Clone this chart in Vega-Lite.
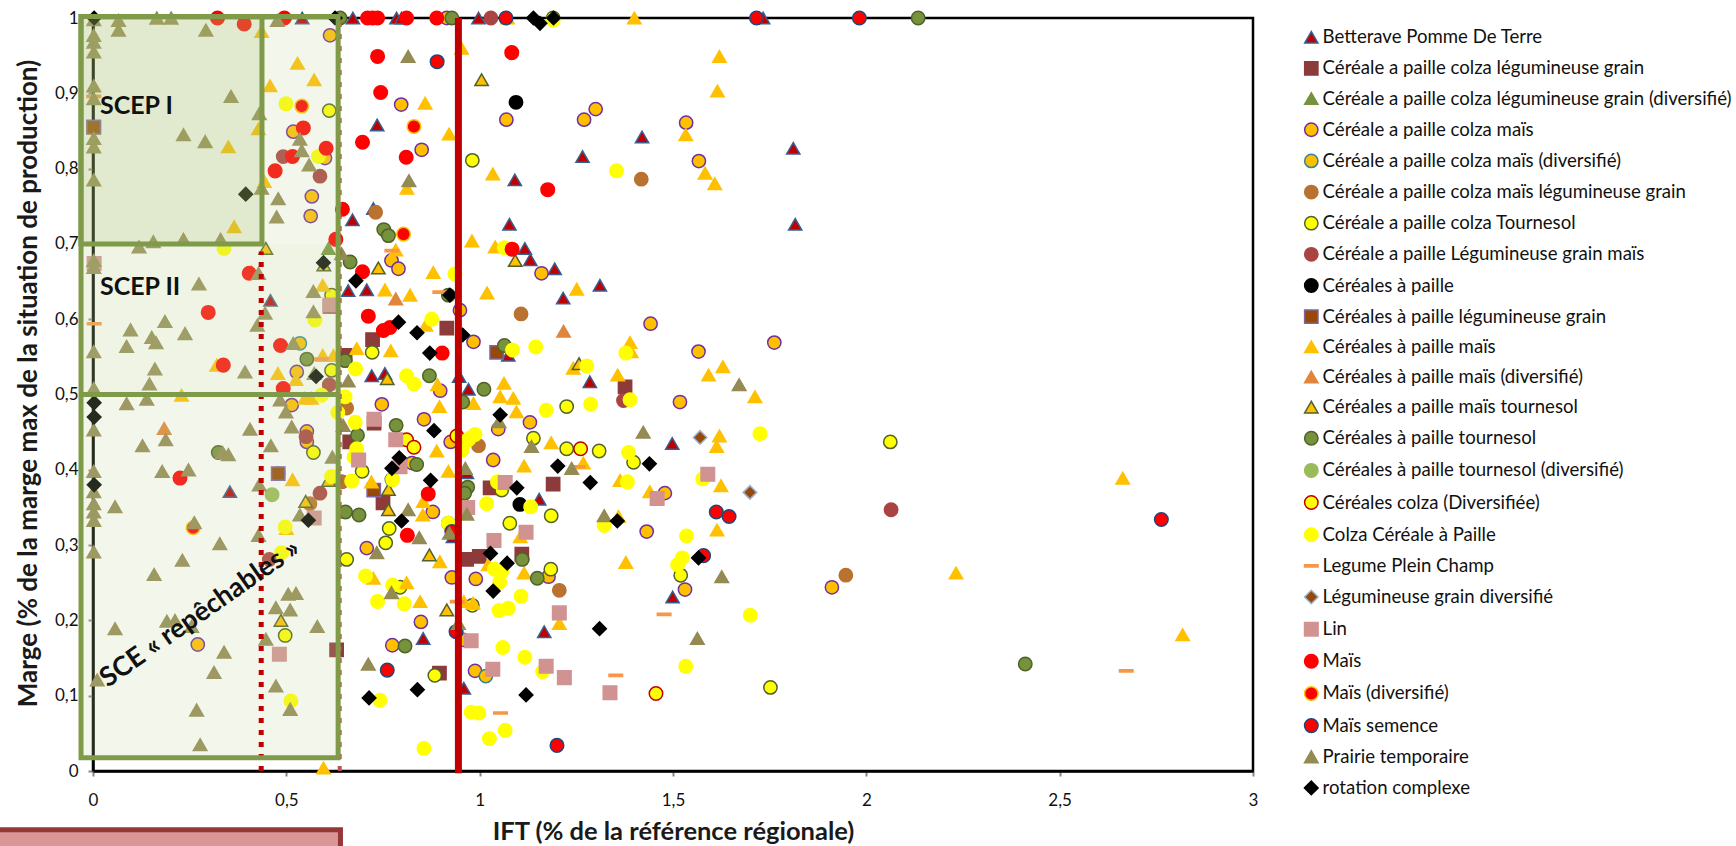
{"$schema":"https://vega.github.io/schema/vega-lite/v6.json","width":1160,"height":753,"autosize":{"type":"none"},"padding":{"left":93,"top":18,"right":483,"bottom":75},"background":"white","config":{"view":{"stroke":"#000000","strokeWidth":2.5},"font":"Lato"},
"datasets":{"pts":[
{"s":"Betterave Pomme De Terre","x":0.672,"y":1},{"s":"Betterave Pomme De Terre","x":0.785,"y":1},{"s":"Betterave Pomme De Terre","x":0.798,"y":1},{"s":"Betterave Pomme De Terre","x":0.997,"y":1},{"s":"Betterave Pomme De Terre","x":1.733,"y":1},{"s":"Betterave Pomme De Terre","x":0.735,"y":0.858},{"s":"Betterave Pomme De Terre","x":0.671,"y":0.732},{"s":"Betterave Pomme De Terre","x":0.725,"y":0.747},{"s":"Betterave Pomme De Terre","x":1.42,"y":0.842},{"s":"Betterave Pomme De Terre","x":1.266,"y":0.816},{"s":"Betterave Pomme De Terre","x":1.811,"y":0.827},{"s":"Betterave Pomme De Terre","x":1.091,"y":0.785},{"s":"Betterave Pomme De Terre","x":1.077,"y":0.726},{"s":"Betterave Pomme De Terre","x":1.816,"y":0.726},{"s":"Betterave Pomme De Terre","x":1.117,"y":0.694},{"s":"Betterave Pomme De Terre","x":1.131,"y":0.679},{"s":"Betterave Pomme De Terre","x":1.194,"y":0.667},{"s":"Betterave Pomme De Terre","x":1.311,"y":0.645},{"s":"Betterave Pomme De Terre","x":1.216,"y":0.628},{"s":"Betterave Pomme De Terre","x":0.66,"y":0.638},{"s":"Betterave Pomme De Terre","x":0.708,"y":0.639},{"s":"Betterave Pomme De Terre","x":1.074,"y":0.552},{"s":"Betterave Pomme De Terre","x":0.721,"y":0.525},{"s":"Betterave Pomme De Terre","x":0.755,"y":0.528},{"s":"Betterave Pomme De Terre","x":0.947,"y":0.524},{"s":"Betterave Pomme De Terre","x":0.971,"y":0.507},{"s":"Betterave Pomme De Terre","x":1.285,"y":0.517},{"s":"Betterave Pomme De Terre","x":0.541,"y":1},{"s":"Betterave Pomme De Terre","x":0.459,"y":0.625},{"s":"Betterave Pomme De Terre","x":0.354,"y":0.371},{"s":"Betterave Pomme De Terre","x":0.854,"y":0.176},{"s":"Betterave Pomme De Terre","x":0.959,"y":0.11},{"s":"Betterave Pomme De Terre","x":1.499,"y":0.231},{"s":"Betterave Pomme De Terre","x":1.167,"y":0.185},{"s":"Betterave Pomme De Terre","x":1.498,"y":0.435},{"s":"Betterave Pomme De Terre","x":1.154,"y":0.361},{"s":"Betterave Pomme De Terre","x":0.967,"y":0.396},{"s":"Betterave Pomme De Terre","x":0.931,"y":0.311},
{"s":"Céréale a paille colza légumineuse grain","x":0.915,"y":0.588},{"s":"Céréale a paille colza légumineuse grain","x":0.723,"y":0.573},{"s":"Céréale a paille colza légumineuse grain","x":0.652,"y":0.552},{"s":"Céréale a paille colza légumineuse grain","x":1.376,"y":0.51},{"s":"Céréale a paille colza légumineuse grain","x":0.613,"y":0.617},{"s":"Céréale a paille colza légumineuse grain","x":0.63,"y":0.161},{"s":"Céréale a paille colza légumineuse grain","x":0.727,"y":0.462},{"s":"Céréale a paille colza légumineuse grain","x":0.664,"y":0.437},{"s":"Céréale a paille colza légumineuse grain","x":0.75,"y":0.356},{"s":"Céréale a paille colza légumineuse grain","x":1.027,"y":0.376},{"s":"Céréale a paille colza légumineuse grain","x":1.19,"y":0.381},{"s":"Céréale a paille colza légumineuse grain","x":0.966,"y":0.281},{"s":"Céréale a paille colza légumineuse grain","x":0.999,"y":0.285},{"s":"Céréale a paille colza légumineuse grain","x":1.109,"y":0.288},{"s":"Céréale a paille colza légumineuse grain","x":0.896,"y":0.13},{"s":"Céréale a paille colza légumineuse grain","x":0.002,"y":0.855},
{"s":"Céréale a paille colza légumineuse grain (diversifié)","x":0.609,"y":0.694},
{"s":"Céréale a paille colza maïs","x":0.797,"y":0.885},{"s":"Céréale a paille colza maïs","x":0.85,"y":0.825},{"s":"Céréale a paille colza maïs","x":1.069,"y":0.865},{"s":"Céréale a paille colza maïs","x":1.27,"y":0.865},{"s":"Céréale a paille colza maïs","x":1.3,"y":0.879},{"s":"Céréale a paille colza maïs","x":1.534,"y":0.861},{"s":"Céréale a paille colza maïs","x":1.567,"y":0.81},{"s":"Céréale a paille colza maïs","x":0.772,"y":0.678},{"s":"Céréale a paille colza maïs","x":0.79,"y":0.667},{"s":"Céréale a paille colza maïs","x":0.949,"y":0.612},{"s":"Céréale a paille colza maïs","x":1.16,"y":0.661},{"s":"Céréale a paille colza maïs","x":1.442,"y":0.594},{"s":"Céréale a paille colza maïs","x":0.984,"y":0.57},{"s":"Céréale a paille colza maïs","x":1.566,"y":0.557},{"s":"Céréale a paille colza maïs","x":1.762,"y":0.569},{"s":"Céréale a paille colza maïs","x":0.898,"y":0.505},{"s":"Céréale a paille colza maïs","x":1.518,"y":0.49},{"s":"Céréale a paille colza maïs","x":0.915,"y":1},{"s":"Céréale a paille colza maïs","x":0.613,"y":0.977},{"s":"Céréale a paille colza maïs","x":0.518,"y":0.849},{"s":"Céréale a paille colza maïs","x":0.6,"y":0.814},{"s":"Céréale a paille colza maïs","x":0.566,"y":0.763},{"s":"Céréale a paille colza maïs","x":0.563,"y":0.737},{"s":"Céréale a paille colza maïs","x":0.527,"y":0.53},{"s":"Céréale a paille colza maïs","x":0.514,"y":0.486},{"s":"Céréale a paille colza maïs","x":0.553,"y":0.451},{"s":"Céréale a paille colza maïs","x":0.553,"y":0.437},{"s":"Céréale a paille colza maïs","x":0.271,"y":0.168},{"s":"Céréale a paille colza maïs","x":0.747,"y":0.487},{"s":"Céréale a paille colza maïs","x":0.856,"y":0.467},{"s":"Céréale a paille colza maïs","x":0.925,"y":0.437},{"s":"Céréale a paille colza maïs","x":1.035,"y":0.413},{"s":"Céréale a paille colza maïs","x":1.048,"y":0.454},{"s":"Céréale a paille colza maïs","x":1.13,"y":0.463},{"s":"Céréale a paille colza maïs","x":0.879,"y":0.344},{"s":"Céréale a paille colza maïs","x":0.825,"y":0.409},{"s":"Céréale a paille colza maïs","x":0.644,"y":0.384},{"s":"Céréale a paille colza maïs","x":1.479,"y":0.369},{"s":"Céréale a paille colza maïs","x":1.432,"y":0.318},{"s":"Céréale a paille colza maïs","x":1.531,"y":0.241},{"s":"Céréale a paille colza maïs","x":1.178,"y":0.258},{"s":"Céréale a paille colza maïs","x":0.708,"y":0.296},{"s":"Céréale a paille colza maïs","x":0.928,"y":0.257},{"s":"Céréale a paille colza maïs","x":0.99,"y":0.255},{"s":"Céréale a paille colza maïs","x":0.848,"y":0.198},{"s":"Céréale a paille colza maïs","x":0.774,"y":0.167},{"s":"Céréale a paille colza maïs","x":0.988,"y":0.133},{"s":"Céréale a paille colza maïs","x":0.958,"y":0.174},{"s":"Céréale a paille colza maïs","x":1.911,"y":0.244},
{"s":"Céréale a paille colza maïs (diversifié)","x":1.016,"y":0.126},{"s":"Céréale a paille colza maïs (diversifié)","x":0.535,"y":0.568},{"s":"Céréale a paille colza maïs (diversifié)","x":0.479,"y":0.395},
{"s":"Céréale a paille colza maïs légumineuse grain","x":1.418,"y":0.786},{"s":"Céréale a paille colza maïs légumineuse grain","x":0.731,"y":0.742},{"s":"Céréale a paille colza maïs légumineuse grain","x":1.107,"y":0.607},{"s":"Céréale a paille colza maïs légumineuse grain","x":0.656,"y":0.482},{"s":"Céréale a paille colza maïs légumineuse grain","x":0.643,"y":0.384},{"s":"Céréale a paille colza maïs légumineuse grain","x":0.561,"y":0.355},{"s":"Céréale a paille colza maïs légumineuse grain","x":1.206,"y":0.24},{"s":"Céréale a paille colza maïs légumineuse grain","x":0.997,"y":0.432},{"s":"Céréale a paille colza maïs légumineuse grain","x":1.947,"y":0.26},
{"s":"Céréale a paille colza Tournesol","x":0.981,"y":0.811},{"s":"Céréale a paille colza Tournesol","x":1.19,"y":1},{"s":"Céréale a paille colza Tournesol","x":0.722,"y":0.556},{"s":"Céréale a paille colza Tournesol","x":0.611,"y":0.877},{"s":"Céréale a paille colza Tournesol","x":0.617,"y":0.632},{"s":"Céréale a paille colza Tournesol","x":0.617,"y":0.532},{"s":"Céréale a paille colza Tournesol","x":0.57,"y":0.423},{"s":"Céréale a paille colza Tournesol","x":0.497,"y":0.18},{"s":"Céréale a paille colza Tournesol","x":0.696,"y":0.398},{"s":"Céréale a paille colza Tournesol","x":0.773,"y":0.387},{"s":"Céréale a paille colza Tournesol","x":0.766,"y":0.322},{"s":"Céréale a paille colza Tournesol","x":0.757,"y":0.303},{"s":"Céréale a paille colza Tournesol","x":0.919,"y":0.329},{"s":"Céréale a paille colza Tournesol","x":0.656,"y":0.281},{"s":"Céréale a paille colza Tournesol","x":0.794,"y":0.244},{"s":"Céréale a paille colza Tournesol","x":0.981,"y":0.22},{"s":"Céréale a paille colza Tournesol","x":0.884,"y":0.127},{"s":"Céréale a paille colza Tournesol","x":1.225,"y":0.484},{"s":"Céréale a paille colza Tournesol","x":1.139,"y":0.442},{"s":"Céréale a paille colza Tournesol","x":1.225,"y":0.428},{"s":"Céréale a paille colza Tournesol","x":1.309,"y":0.425},{"s":"Céréale a paille colza Tournesol","x":1.398,"y":0.41},{"s":"Céréale a paille colza Tournesol","x":1.185,"y":0.339},{"s":"Céréale a paille colza Tournesol","x":1.078,"y":0.329},{"s":"Céréale a paille colza Tournesol","x":1.057,"y":0.373},{"s":"Céréale a paille colza Tournesol","x":1.184,"y":0.268},{"s":"Céréale a paille colza Tournesol","x":1.52,"y":0.26},{"s":"Céréale a paille colza Tournesol","x":1.752,"y":0.111},{"s":"Céréale a paille colza Tournesol","x":2.062,"y":0.437},
{"s":"Céréale a paille Légumineuse grain maïs","x":1.029,"y":1},{"s":"Céréale a paille Légumineuse grain maïs","x":0.492,"y":0.816},{"s":"Céréale a paille Légumineuse grain maïs","x":0.587,"y":0.79},{"s":"Céréale a paille Légumineuse grain maïs","x":0.611,"y":0.513},{"s":"Céréale a paille Légumineuse grain maïs","x":0.587,"y":0.369},{"s":"Céréale a paille Légumineuse grain maïs","x":0.551,"y":0.444},{"s":"Céréale a paille Légumineuse grain maïs","x":0.456,"y":0.281},{"s":"Céréale a paille Légumineuse grain maïs","x":2.064,"y":0.347},{"s":"Céréale a paille Légumineuse grain maïs","x":1.372,"y":0.492},
{"s":"Céréales à paille","x":1.094,"y":0.888},{"s":"Céréales à paille","x":1.104,"y":0.354},
{"s":"Céréales à paille légumineuse grain","x":1.044,"y":0.556},{"s":"Céréales à paille légumineuse grain","x":0.479,"y":0.395},{"s":"Céréales à paille légumineuse grain","x":0.726,"y":0.373},{"s":"Céréales à paille légumineuse grain","x":0.002,"y":0.855},
{"s":"Céréales à paille maïs","x":1.4,"y":1},{"s":"Céréales à paille maïs","x":1.62,"y":0.949},{"s":"Céréales à paille maïs","x":1.615,"y":0.903},{"s":"Céréales à paille maïs","x":1.533,"y":0.845},{"s":"Céréales à paille maïs","x":1.583,"y":0.794},{"s":"Céréales à paille maïs","x":1.608,"y":0.78},{"s":"Céréales à paille maïs","x":0.953,"y":0.96},{"s":"Céréales à paille maïs","x":0.859,"y":0.887},{"s":"Céréales à paille maïs","x":0.921,"y":0.846},{"s":"Céréales à paille maïs","x":0.812,"y":0.774},{"s":"Céréales à paille maïs","x":1.034,"y":0.793},{"s":"Céréales à paille maïs","x":0.98,"y":0.704},{"s":"Céréales à paille maïs","x":1.04,"y":0.696},{"s":"Céréales à paille maïs","x":0.783,"y":0.692},{"s":"Céréales à paille maïs","x":0.88,"y":0.662},{"s":"Céréales à paille maïs","x":1.019,"y":0.635},{"s":"Céréales à paille maïs","x":1.251,"y":0.64},{"s":"Céréales à paille maïs","x":0.755,"y":0.639},{"s":"Céréales à paille maïs","x":0.82,"y":0.632},{"s":"Céréales à paille maïs","x":0.861,"y":0.592},{"s":"Céréales à paille maïs","x":0.682,"y":0.561},{"s":"Céréales à paille maïs","x":0.77,"y":0.558},{"s":"Céréales à paille maïs","x":1.389,"y":0.569},{"s":"Céréales à paille maïs","x":1.392,"y":0.557},{"s":"Céréales à paille maïs","x":1.242,"y":0.535},{"s":"Céréales à paille maïs","x":1.357,"y":0.526},{"s":"Céréales à paille maïs","x":1.592,"y":0.526},{"s":"Céréales à paille maïs","x":1.629,"y":0.537},{"s":"Céréales à paille maïs","x":1.712,"y":0.497},{"s":"Céréales à paille maïs","x":1.063,"y":0.515},{"s":"Céréales à paille maïs","x":0.891,"y":0.513},{"s":"Céréales à paille maïs","x":1.072,"y":1},{"s":"Céréales à paille maïs","x":0.436,"y":0.982},{"s":"Céréales à paille maïs","x":0.529,"y":0.94},{"s":"Céréales à paille maïs","x":0.458,"y":0.91},{"s":"Céréales à paille maïs","x":0.572,"y":0.918},{"s":"Céréales à paille maïs","x":0.428,"y":0.853},{"s":"Céréales à paille maïs","x":0.35,"y":0.829},{"s":"Céréales à paille maïs","x":0.443,"y":0.783},{"s":"Céréales à paille maïs","x":0.365,"y":0.723},{"s":"Céréales à paille maïs","x":0.41,"y":0.663},{"s":"Céréales à paille maïs","x":0.594,"y":0.645},{"s":"Céréales à paille maïs","x":0.478,"y":0.528},{"s":"Céréales à paille maïs","x":0.525,"y":0.52},{"s":"Céréales à paille maïs","x":0.32,"y":0.539},{"s":"Céréales à paille maïs","x":0.594,"y":0.552},{"s":"Céréales à paille maïs","x":0.622,"y":0.552},{"s":"Céréales à paille maïs","x":0.229,"y":0.499},{"s":"Céréales à paille maïs","x":0.548,"y":0.495},{"s":"Céréales à paille maïs","x":0.565,"y":0.495},{"s":"Céréales à paille maïs","x":0.896,"y":0.484},{"s":"Céréales à paille maïs","x":0.984,"y":0.488},{"s":"Céréales à paille maïs","x":0.516,"y":0.387},{"s":"Céréales à paille maïs","x":0.5,"y":0.322},{"s":"Céréales à paille maïs","x":0.72,"y":0.384},{"s":"Céréales à paille maïs","x":0.853,"y":0.34},{"s":"Céréales à paille maïs","x":0.854,"y":0.358},{"s":"Céréales à paille maïs","x":0.889,"y":0.425},{"s":"Céréales à paille maïs","x":0.919,"y":0.398},{"s":"Céréales à paille maïs","x":0.897,"y":0.278},{"s":"Céréales à paille maïs","x":0.725,"y":0.256},{"s":"Céréales à paille maïs","x":0.811,"y":0.25},{"s":"Céréales à paille maïs","x":0.846,"y":0.225},{"s":"Céréales à paille maïs","x":0.959,"y":0.225},{"s":"Céréales à paille maïs","x":0.596,"y":0.004},{"s":"Céréales à paille maïs","x":1.053,"y":0.497},{"s":"Céréales à paille maïs","x":1.087,"y":0.495},{"s":"Céréales à paille maïs","x":1.095,"y":0.477},{"s":"Céréales à paille maïs","x":1.185,"y":0.436},{"s":"Céréales à paille maïs","x":1.268,"y":0.409},{"s":"Céréales à paille maïs","x":1.115,"y":0.405},{"s":"Céréales à paille maïs","x":1.363,"y":0.386},{"s":"Céréales à paille maïs","x":1.44,"y":0.371},{"s":"Céréales à paille maïs","x":1.62,"y":0.445},{"s":"Céréales à paille maïs","x":1.613,"y":0.431},{"s":"Céréales à paille maïs","x":1.624,"y":0.379},{"s":"Céréales à paille maïs","x":1.614,"y":0.32},{"s":"Céréales à paille maïs","x":1.378,"y":0.277},{"s":"Céréales à paille maïs","x":1.105,"y":0.311},{"s":"Céréales à paille maïs","x":1.359,"y":0.338},{"s":"Céréales à paille maïs","x":1.115,"y":0.263},{"s":"Céréales à paille maïs","x":1.022,"y":0.274},{"s":"Céréales à paille maïs","x":1.206,"y":0.196},{"s":"Céréales à paille maïs","x":0.983,"y":0.223},{"s":"Céréales à paille maïs","x":2.663,"y":0.389},{"s":"Céréales à paille maïs","x":2.232,"y":0.263},{"s":"Céréales à paille maïs","x":2.818,"y":0.181},
{"s":"Céréales à paille maïs (diversifié)","x":0.783,"y":0.627},{"s":"Céréales à paille maïs (diversifié)","x":1.217,"y":0.584},{"s":"Céréales à paille maïs (diversifié)","x":0.184,"y":0.455},
{"s":"Céréales a paille maïs tournesol","x":1.005,"y":0.918},{"s":"Céréales a paille maïs tournesol","x":0.738,"y":0.668},{"s":"Céréales a paille maïs tournesol","x":1.092,"y":0.678},{"s":"Céréales a paille maïs tournesol","x":1.257,"y":0.541},{"s":"Céréales a paille maïs tournesol","x":0.761,"y":0.521},{"s":"Céréales a paille maïs tournesol","x":0.447,"y":0.694},{"s":"Céréales a paille maïs tournesol","x":0.597,"y":0.672},{"s":"Céréales a paille maïs tournesol","x":0.764,"y":0.374},{"s":"Céréales a paille maïs tournesol","x":0.764,"y":0.347},{"s":"Céréales a paille maïs tournesol","x":0.87,"y":0.287},{"s":"Céréales a paille maïs tournesol","x":0.915,"y":0.214},{"s":"Céréales a paille maïs tournesol","x":0.486,"y":0.2},{"s":"Céréales a paille maïs tournesol","x":0.55,"y":0.358},{"s":"Céréales a paille maïs tournesol","x":0.609,"y":0.386},
{"s":"Céréales à paille tournesol","x":2.134,"y":1},{"s":"Céréales à paille tournesol","x":0.928,"y":1},{"s":"Céréales à paille tournesol","x":0.639,"y":1},{"s":"Céréales à paille tournesol","x":0.752,"y":0.719},{"s":"Céréales à paille tournesol","x":0.764,"y":0.711},{"s":"Céréales à paille tournesol","x":0.665,"y":0.676},{"s":"Céréales à paille tournesol","x":0.919,"y":0.632},{"s":"Céréales à paille tournesol","x":1.064,"y":0.565},{"s":"Céréales à paille tournesol","x":0.652,"y":0.545},{"s":"Céréales à paille tournesol","x":0.87,"y":0.525},{"s":"Céréales à paille tournesol","x":1.011,"y":0.507},{"s":"Céréales à paille tournesol","x":0.956,"y":0.49},{"s":"Céréales à paille tournesol","x":0.553,"y":0.547},{"s":"Céréales à paille tournesol","x":0.324,"y":0.423},{"s":"Céréales à paille tournesol","x":0.684,"y":0.446},{"s":"Céréales à paille tournesol","x":0.784,"y":0.459},{"s":"Céréales à paille tournesol","x":0.653,"y":0.344},{"s":"Céréales à paille tournesol","x":0.688,"y":0.34},{"s":"Céréales à paille tournesol","x":0.837,"y":0.407},{"s":"Céréales à paille tournesol","x":0.969,"y":0.377},{"s":"Céréales à paille tournesol","x":0.961,"y":0.369},{"s":"Céréales à paille tournesol","x":0.807,"y":0.166},{"s":"Céréales à paille tournesol","x":1.11,"y":0.281},{"s":"Céréales à paille tournesol","x":1.149,"y":0.256},{"s":"Céréales à paille tournesol","x":2.411,"y":0.142},
{"s":"Céréales à paille tournesol (diversifié)","x":0.463,"y":0.367},
{"s":"Céréales colza (Diversifiée)","x":0.811,"y":0.44},{"s":"Céréales colza (Diversifiée)","x":0.83,"y":0.43},{"s":"Céréales colza (Diversifiée)","x":0.941,"y":0.445},{"s":"Céréales colza (Diversifiée)","x":1.261,"y":0.428},{"s":"Céréales colza (Diversifiée)","x":1.456,"y":0.103},
{"s":"Colza Céréale à Paille","x":1.19,"y":0.997},{"s":"Colza Céréale à Paille","x":1.354,"y":0.797},{"s":"Colza Céréale à Paille","x":0.936,"y":0.66},{"s":"Colza Céréale à Paille","x":1.064,"y":0.695},{"s":"Colza Céréale à Paille","x":0.876,"y":0.6},{"s":"Colza Céréale à Paille","x":1.085,"y":0.559},{"s":"Colza Céréale à Paille","x":1.145,"y":0.563},{"s":"Colza Céréale à Paille","x":1.378,"y":0.555},{"s":"Colza Céréale à Paille","x":1.277,"y":0.538},{"s":"Colza Céréale à Paille","x":0.679,"y":0.534},{"s":"Colza Céréale à Paille","x":0.811,"y":0.525},{"s":"Colza Céréale à Paille","x":0.83,"y":0.514},{"s":"Colza Céréale à Paille","x":0.499,"y":0.886},{"s":"Colza Céréale à Paille","x":0.583,"y":0.816},{"s":"Colza Céréale à Paille","x":0.574,"y":0.599},{"s":"Colza Céréale à Paille","x":0.339,"y":0.694},{"s":"Colza Céréale à Paille","x":0.652,"y":0.497},{"s":"Colza Céréale à Paille","x":0.591,"y":0.499},{"s":"Colza Céréale à Paille","x":0.633,"y":0.476},{"s":"Colza Céréale à Paille","x":0.678,"y":0.463},{"s":"Colza Céréale à Paille","x":0.497,"y":0.324},{"s":"Colza Céréale à Paille","x":0.488,"y":0.29},{"s":"Colza Céréale à Paille","x":0.512,"y":0.093},{"s":"Colza Céréale à Paille","x":0.617,"y":0.391},{"s":"Colza Céréale à Paille","x":0.669,"y":0.385},{"s":"Colza Céréale à Paille","x":0.682,"y":0.428},{"s":"Colza Céréale à Paille","x":0.675,"y":0.417},{"s":"Colza Céréale à Paille","x":0.775,"y":0.387},{"s":"Colza Céréale à Paille","x":0.856,"y":0.03},{"s":"Colza Céréale à Paille","x":0.742,"y":0.094},{"s":"Colza Céréale à Paille","x":0.998,"y":0.077},{"s":"Colza Céréale à Paille","x":0.705,"y":0.259},{"s":"Colza Céréale à Paille","x":0.736,"y":0.225},{"s":"Colza Céréale à Paille","x":0.805,"y":0.222},{"s":"Colza Céréale à Paille","x":0.775,"y":0.247},{"s":"Colza Céréale à Paille","x":0.919,"y":0.329},{"s":"Colza Céréale à Paille","x":0.974,"y":0.442},{"s":"Colza Céréale à Paille","x":0.954,"y":0.426},{"s":"Colza Céréale à Paille","x":1.172,"y":0.479},{"s":"Colza Céréale à Paille","x":1.287,"y":0.487},{"s":"Colza Céréale à Paille","x":1.389,"y":0.493},{"s":"Colza Céréale à Paille","x":1.725,"y":0.448},{"s":"Colza Céréale à Paille","x":1.385,"y":0.423},{"s":"Colza Céréale à Paille","x":1.382,"y":0.384},{"s":"Colza Céréale à Paille","x":1.577,"y":0.388},{"s":"Colza Céréale à Paille","x":1.018,"y":0.355},{"s":"Colza Céréale à Paille","x":1.132,"y":0.351},{"s":"Colza Céréale à Paille","x":1.046,"y":0.384},{"s":"Colza Céréale à Paille","x":1.322,"y":0.326},{"s":"Colza Céréale à Paille","x":1.535,"y":0.312},{"s":"Colza Céréale à Paille","x":1.524,"y":0.283},{"s":"Colza Céréale à Paille","x":1.512,"y":0.274},{"s":"Colza Céréale à Paille","x":1.7,"y":0.207},{"s":"Colza Céréale à Paille","x":1.038,"y":0.268},{"s":"Colza Céréale à Paille","x":1.057,"y":0.265},{"s":"Colza Céréale à Paille","x":1.052,"y":0.251},{"s":"Colza Céréale à Paille","x":1.107,"y":0.232},{"s":"Colza Céréale à Paille","x":1.05,"y":0.213},{"s":"Colza Céréale à Paille","x":1.074,"y":0.216},{"s":"Colza Céréale à Paille","x":1.06,"y":0.164},{"s":"Colza Céréale à Paille","x":1.117,"y":0.151},{"s":"Colza Céréale à Paille","x":1.163,"y":0.132},{"s":"Colza Céréale à Paille","x":1.533,"y":0.139},{"s":"Colza Céréale à Paille","x":0.978,"y":0.078},{"s":"Colza Céréale à Paille","x":1.066,"y":0.054},{"s":"Colza Céréale à Paille","x":1.025,"y":0.043},{"s":"Colza Céréale à Paille","x":0.988,"y":0.447},{"s":"Colza Céréale à Paille","x":0.971,"y":0.44},
{"s":"Legume Plein Champ","x":0.003,"y":0.594},{"s":"Legume Plein Champ","x":0.002,"y":0.896},{"s":"Legume Plein Champ","x":0.773,"y":0.691},{"s":"Legume Plein Champ","x":0.897,"y":0.636},{"s":"Legume Plein Champ","x":0.591,"y":0.547},{"s":"Legume Plein Champ","x":0.942,"y":0.225},{"s":"Legume Plein Champ","x":1.255,"y":0.404},{"s":"Legume Plein Champ","x":1.477,"y":0.208},{"s":"Legume Plein Champ","x":1.352,"y":0.127},{"s":"Legume Plein Champ","x":1.054,"y":0.077},{"s":"Legume Plein Champ","x":2.672,"y":0.133},
{"s":"Légumineuse grain diversifié","x":1.57,"y":0.443},{"s":"Légumineuse grain diversifié","x":1.699,"y":0.37},
{"s":"Lin","x":0.727,"y":0.467},{"s":"Lin","x":0.783,"y":0.44},{"s":"Lin","x":0.687,"y":0.413},{"s":"Lin","x":0.794,"y":0.404},{"s":"Lin","x":0.969,"y":0.35},{"s":"Lin","x":1.066,"y":0.383},{"s":"Lin","x":1.12,"y":0.317},{"s":"Lin","x":1.037,"y":0.306},{"s":"Lin","x":1.59,"y":0.394},{"s":"Lin","x":1.459,"y":0.362},{"s":"Lin","x":1.206,"y":0.21},{"s":"Lin","x":0.978,"y":0.173},{"s":"Lin","x":1.034,"y":0.135},{"s":"Lin","x":1.172,"y":0.139},{"s":"Lin","x":1.219,"y":0.124},{"s":"Lin","x":1.337,"y":0.104},{"s":"Lin","x":0.482,"y":0.155},{"s":"Lin","x":0.572,"y":0.336},{"s":"Lin","x":0.003,"y":0.674},{"s":"Lin","x":0.613,"y":0.619},
{"s":"Maïs","x":0.736,"y":0.949},{"s":"Maïs","x":0.744,"y":0.901},{"s":"Maïs","x":0.697,"y":0.835},{"s":"Maïs","x":0.81,"y":0.815},{"s":"Maïs","x":1.083,"y":0.954},{"s":"Maïs","x":1.176,"y":0.772},{"s":"Maïs","x":1.084,"y":0.693},{"s":"Maïs","x":0.645,"y":0.746},{"s":"Maïs","x":0.697,"y":0.663},{"s":"Maïs","x":0.712,"y":0.604},{"s":"Maïs","x":0.768,"y":0.589},{"s":"Maïs","x":0.751,"y":0.585},{"s":"Maïs","x":0.903,"y":0.555},{"s":"Maïs","x":0.71,"y":1},{"s":"Maïs","x":0.736,"y":1},{"s":"Maïs","x":0.723,"y":1},{"s":"Maïs","x":0.811,"y":1},{"s":"Maïs","x":0.889,"y":1},{"s":"Maïs","x":0.322,"y":1},{"s":"Maïs","x":0.391,"y":0.992},{"s":"Maïs","x":0.495,"y":1},{"s":"Maïs","x":0.544,"y":0.854},{"s":"Maïs","x":0.516,"y":0.816},{"s":"Maïs","x":0.471,"y":0.797},{"s":"Maïs","x":0.603,"y":0.827},{"s":"Maïs","x":0.298,"y":0.609},{"s":"Maïs","x":0.404,"y":0.661},{"s":"Maïs","x":0.337,"y":0.539},{"s":"Maïs","x":0.485,"y":0.565},{"s":"Maïs","x":0.628,"y":0.706},{"s":"Maïs","x":0.492,"y":0.508},{"s":"Maïs","x":0.225,"y":0.389},{"s":"Maïs","x":0.867,"y":0.368},{"s":"Maïs","x":0.813,"y":0.313},
{"s":"Maïs (diversifié)","x":0.83,"y":0.856},{"s":"Maïs (diversifié)","x":0.803,"y":0.713},{"s":"Maïs (diversifié)","x":0.54,"y":0.883},{"s":"Maïs (diversifié)","x":0.259,"y":0.323},
{"s":"Maïs semence","x":1.982,"y":1},{"s":"Maïs semence","x":0.89,"y":0.942},{"s":"Maïs semence","x":1.068,"y":1},{"s":"Maïs semence","x":1.716,"y":1},{"s":"Maïs semence","x":0.761,"y":0.134},{"s":"Maïs semence","x":1.2,"y":0.034},{"s":"Maïs semence","x":1.612,"y":0.344},{"s":"Maïs semence","x":1.645,"y":0.338},{"s":"Maïs semence","x":1.579,"y":0.286},{"s":"Maïs semence","x":0.928,"y":0.318},{"s":"Maïs semence","x":0.939,"y":0.185},{"s":"Maïs semence","x":2.763,"y":0.334},
{"s":"Prairie temporaire","x":0.002,"y":0.998},{"s":"Prairie temporaire","x":0.002,"y":0.977},{"s":"Prairie temporaire","x":0.002,"y":0.968},{"s":"Prairie temporaire","x":0.002,"y":0.955},{"s":"Prairie temporaire","x":0.002,"y":0.91},{"s":"Prairie temporaire","x":0.002,"y":0.893},{"s":"Prairie temporaire","x":0.002,"y":0.84},{"s":"Prairie temporaire","x":0.002,"y":0.829},{"s":"Prairie temporaire","x":0.002,"y":0.785},{"s":"Prairie temporaire","x":0.002,"y":0.678},{"s":"Prairie temporaire","x":0.002,"y":0.669},{"s":"Prairie temporaire","x":0.002,"y":0.557},{"s":"Prairie temporaire","x":0.002,"y":0.508},{"s":"Prairie temporaire","x":0.002,"y":0.453},{"s":"Prairie temporaire","x":0.002,"y":0.398},{"s":"Prairie temporaire","x":0.002,"y":0.371},{"s":"Prairie temporaire","x":0.002,"y":0.355},{"s":"Prairie temporaire","x":0.002,"y":0.344},{"s":"Prairie temporaire","x":0.002,"y":0.333},{"s":"Prairie temporaire","x":0.002,"y":0.291},{"s":"Prairie temporaire","x":0.066,"y":0.997},{"s":"Prairie temporaire","x":0.066,"y":0.984},{"s":"Prairie temporaire","x":0.165,"y":1},{"s":"Prairie temporaire","x":0.202,"y":1},{"s":"Prairie temporaire","x":0.292,"y":0.984},{"s":"Prairie temporaire","x":0.477,"y":0.997},{"s":"Prairie temporaire","x":0.357,"y":0.896},{"s":"Prairie temporaire","x":0.43,"y":0.873},{"s":"Prairie temporaire","x":0.234,"y":0.845},{"s":"Prairie temporaire","x":0.29,"y":0.836},{"s":"Prairie temporaire","x":0.535,"y":0.839},{"s":"Prairie temporaire","x":0.54,"y":0.824},{"s":"Prairie temporaire","x":0.559,"y":0.805},{"s":"Prairie temporaire","x":0.436,"y":0.774},{"s":"Prairie temporaire","x":0.479,"y":0.76},{"s":"Prairie temporaire","x":0.475,"y":0.736},{"s":"Prairie temporaire","x":0.119,"y":0.696},{"s":"Prairie temporaire","x":0.156,"y":0.703},{"s":"Prairie temporaire","x":0.234,"y":0.706},{"s":"Prairie temporaire","x":0.33,"y":0.706},{"s":"Prairie temporaire","x":0.428,"y":0.661},{"s":"Prairie temporaire","x":0.274,"y":0.647},{"s":"Prairie temporaire","x":0.57,"y":0.637},{"s":"Prairie temporaire","x":0.57,"y":0.61},{"s":"Prairie temporaire","x":0.425,"y":0.592},{"s":"Prairie temporaire","x":0.445,"y":0.608},{"s":"Prairie temporaire","x":0.097,"y":0.586},{"s":"Prairie temporaire","x":0.186,"y":0.597},{"s":"Prairie temporaire","x":0.087,"y":0.564},{"s":"Prairie temporaire","x":0.238,"y":0.581},{"s":"Prairie temporaire","x":0.152,"y":0.576},{"s":"Prairie temporaire","x":0.163,"y":0.569},{"s":"Prairie temporaire","x":0.16,"y":0.534},{"s":"Prairie temporaire","x":0.393,"y":0.53},{"s":"Prairie temporaire","x":0.518,"y":0.568},{"s":"Prairie temporaire","x":0.146,"y":0.514},{"s":"Prairie temporaire","x":0.66,"y":0.518},{"s":"Prairie temporaire","x":0.643,"y":0.687},{"s":"Prairie temporaire","x":0.572,"y":0.528},{"s":"Prairie temporaire","x":0.087,"y":0.488},{"s":"Prairie temporaire","x":0.139,"y":0.494},{"s":"Prairie temporaire","x":0.484,"y":0.493},{"s":"Prairie temporaire","x":0.499,"y":0.477},{"s":"Prairie temporaire","x":0.406,"y":0.454},{"s":"Prairie temporaire","x":0.188,"y":0.44},{"s":"Prairie temporaire","x":0.128,"y":0.432},{"s":"Prairie temporaire","x":0.46,"y":0.432},{"s":"Prairie temporaire","x":0.335,"y":0.423},{"s":"Prairie temporaire","x":0.35,"y":0.42},{"s":"Prairie temporaire","x":0.514,"y":0.457},{"s":"Prairie temporaire","x":0.619,"y":0.417},{"s":"Prairie temporaire","x":0.247,"y":0.4},{"s":"Prairie temporaire","x":0.179,"y":0.398},{"s":"Prairie temporaire","x":0.43,"y":0.38},{"s":"Prairie temporaire","x":0.057,"y":0.351},{"s":"Prairie temporaire","x":0.535,"y":0.34},{"s":"Prairie temporaire","x":0.262,"y":0.33},{"s":"Prairie temporaire","x":0.428,"y":0.313},{"s":"Prairie temporaire","x":0.328,"y":0.302},{"s":"Prairie temporaire","x":0.231,"y":0.28},{"s":"Prairie temporaire","x":0.158,"y":0.261},{"s":"Prairie temporaire","x":0.505,"y":0.235},{"s":"Prairie temporaire","x":0.525,"y":0.236},{"s":"Prairie temporaire","x":0.473,"y":0.217},{"s":"Prairie temporaire","x":0.51,"y":0.214},{"s":"Prairie temporaire","x":0.191,"y":0.199},{"s":"Prairie temporaire","x":0.212,"y":0.2},{"s":"Prairie temporaire","x":0.255,"y":0.192},{"s":"Prairie temporaire","x":0.057,"y":0.189},{"s":"Prairie temporaire","x":0.58,"y":0.192},{"s":"Prairie temporaire","x":0.447,"y":0.175},{"s":"Prairie temporaire","x":0.339,"y":0.158},{"s":"Prairie temporaire","x":0.313,"y":0.131},{"s":"Prairie temporaire","x":0.011,"y":0.121},{"s":"Prairie temporaire","x":0.473,"y":0.113},{"s":"Prairie temporaire","x":0.268,"y":0.081},{"s":"Prairie temporaire","x":0.51,"y":0.082},{"s":"Prairie temporaire","x":0.277,"y":0.035},{"s":"Prairie temporaire","x":0.734,"y":0.29},{"s":"Prairie temporaire","x":0.815,"y":0.347},{"s":"Prairie temporaire","x":0.844,"y":0.31},{"s":"Prairie temporaire","x":0.772,"y":0.237},{"s":"Prairie temporaire","x":0.712,"y":0.142},{"s":"Prairie temporaire","x":0.922,"y":0.316},{"s":"Prairie temporaire","x":0.963,"y":0.402},{"s":"Prairie temporaire","x":0.967,"y":0.341},{"s":"Prairie temporaire","x":0.945,"y":0.196},{"s":"Prairie temporaire","x":0.647,"y":0.459},{"s":"Prairie temporaire","x":0.815,"y":0.949},{"s":"Prairie temporaire","x":0.817,"y":0.784},{"s":"Prairie temporaire","x":1.671,"y":0.513},{"s":"Prairie temporaire","x":1.423,"y":0.45},{"s":"Prairie temporaire","x":1.05,"y":0.464},{"s":"Prairie temporaire","x":1.134,"y":0.431},{"s":"Prairie temporaire","x":1.238,"y":0.402},{"s":"Prairie temporaire","x":1.322,"y":0.339},{"s":"Prairie temporaire","x":1.626,"y":0.258},{"s":"Prairie temporaire","x":1.563,"y":0.176},
{"s":"rotation complexe","x":0.003,"y":1},{"s":"rotation complexe","x":0.626,"y":1},{"s":"rotation complexe","x":0.395,"y":0.766},{"s":"rotation complexe","x":0.596,"y":0.675},{"s":"rotation complexe","x":0.577,"y":0.524},{"s":"rotation complexe","x":0.003,"y":0.489},{"s":"rotation complexe","x":0.003,"y":0.47},{"s":"rotation complexe","x":0.003,"y":0.38},{"s":"rotation complexe","x":0.557,"y":0.333},{"s":"rotation complexe","x":1.139,"y":1},{"s":"rotation complexe","x":1.156,"y":0.993},{"s":"rotation complexe","x":1.191,"y":1},{"s":"rotation complexe","x":0.68,"y":0.651},{"s":"rotation complexe","x":0.923,"y":0.632},{"s":"rotation complexe","x":0.79,"y":0.596},{"s":"rotation complexe","x":0.838,"y":0.582},{"s":"rotation complexe","x":0.871,"y":0.555},{"s":"rotation complexe","x":0.956,"y":0.579},{"s":"rotation complexe","x":1.053,"y":0.473},{"s":"rotation complexe","x":0.882,"y":0.452},{"s":"rotation complexe","x":0.792,"y":0.416},{"s":"rotation complexe","x":0.773,"y":0.402},{"s":"rotation complexe","x":0.873,"y":0.386},{"s":"rotation complexe","x":0.798,"y":0.332},{"s":"rotation complexe","x":1.202,"y":0.405},{"s":"rotation complexe","x":1.286,"y":0.383},{"s":"rotation complexe","x":1.439,"y":0.408},{"s":"rotation complexe","x":1.096,"y":0.376},{"s":"rotation complexe","x":1.356,"y":0.332},{"s":"rotation complexe","x":1.028,"y":0.289},{"s":"rotation complexe","x":1.071,"y":0.276},{"s":"rotation complexe","x":1.566,"y":0.283},{"s":"rotation complexe","x":1.035,"y":0.239},{"s":"rotation complexe","x":1.31,"y":0.189},{"s":"rotation complexe","x":0.714,"y":0.097},{"s":"rotation complexe","x":0.839,"y":0.108},{"s":"rotation complexe","x":1.12,"y":0.101}
]},
"layer":[
{"data":{"name":"pts"},"mark":{"type":"point","filled":true,"opacity":1,"strokeWidth":1.5},
"encoding":{
"x":{"field":"x","type":"quantitative","scale":{"domain":[0,3],"nice":false},"axis":{"title":"IFT (% de la référence régionale)","titleFont":"Lato","titleFontSize":25.5,"titleFontWeight":"bold","titleColor":"#1a1a1a","titlePadding":11,"values":[0,0.5,1,1.5,2,2.5,3],"labelExpr":"replace(toString(datum.value),'.',',')","labelFont":"Lato","labelFontSize":17,"labelColor":"#111111","labelPadding":16,"labelFlush":false,"tickColor":"#868686","tickWidth":2,"tickSize":5,"domainColor":"#000000","domainWidth":2.5,"grid":false}},
"y":{"field":"y","type":"quantitative","scale":{"domain":[0,1],"nice":false},"axis":{"title":"Marge (% de la marge max de la situation de production)","titleFont":"Lato","titleFontSize":26,"titleFontWeight":"bold","titleColor":"#1a1a1a","titlePadding":13,"titleY":365,"values":[0,0.1,0.2,0.3,0.4,0.5,0.6,0.7,0.8,0.9,1],"labelExpr":"replace(toString(datum.value),'.',',')","labelFont":"Lato","labelFontSize":17,"labelColor":"#111111","labelPadding":10,"labelFlush":false,"tickColor":"#868686","tickWidth":2,"tickSize":5,"domainColor":"#000000","domainWidth":2.5,"grid":false}},
"fill":{"field":"s","type":"nominal","scale":{"domain":["Betterave Pomme De Terre","Céréale a paille colza légumineuse grain","Céréale a paille colza légumineuse grain (diversifié)","Céréale a paille colza maïs","Céréale a paille colza maïs (diversifié)","Céréale a paille colza maïs légumineuse grain","Céréale a paille colza Tournesol","Céréale a paille Légumineuse grain maïs","Céréales à paille","Céréales à paille légumineuse grain","Céréales à paille maïs","Céréales à paille maïs (diversifié)","Céréales a paille maïs tournesol","Céréales à paille tournesol","Céréales à paille tournesol (diversifié)","Céréales colza (Diversifiée)","Colza Céréale à Paille","Legume Plein Champ","Légumineuse grain diversifié","Lin","Maïs","Maïs (diversifié)","Maïs semence","Prairie temporaire","rotation complexe"],"range":["#c00000","#8c3a3a","#76923c","#ffc000","#ffc000","#b9722f","#ffff00","#a94442","#000000","#984807","#ffc000","#e0863c","#ffc000","#76923c","#9bbb59","#ffff00","#ffff00","#f79646","#984807","#d09392","#ff0000","#ff0000","#ff0000","#948a54","#000000"]},
"legend":{"orient":"none","legendX":1209,"legendY":10,"title":null,"labelFont":"Lato","labelFontSize":18.6,"labelColor":"#111111","labelLimit":520,"rowPadding":11.15,"labelOffset":2,"columns":1}},
"stroke":{"field":"s","type":"nominal","scale":{"domain":["Betterave Pomme De Terre","Céréale a paille colza légumineuse grain","Céréale a paille colza légumineuse grain (diversifié)","Céréale a paille colza maïs","Céréale a paille colza maïs (diversifié)","Céréale a paille colza maïs légumineuse grain","Céréale a paille colza Tournesol","Céréale a paille Légumineuse grain maïs","Céréales à paille","Céréales à paille légumineuse grain","Céréales à paille maïs","Céréales à paille maïs (diversifié)","Céréales a paille maïs tournesol","Céréales à paille tournesol","Céréales à paille tournesol (diversifié)","Céréales colza (Diversifiée)","Colza Céréale à Paille","Legume Plein Champ","Légumineuse grain diversifié","Lin","Maïs","Maïs (diversifié)","Maïs semence","Prairie temporaire","rotation complexe"],"range":["#376092","#8c3a3a","#76923c","#7030a0","#31859c","#b9722f","#4f6228","#a94442","#000000","#8064a2","#ffc000","#e0863c","#4f6228","#4f6228","#9bbb59","#c00000","#ffff00","#f79646","#95b3d7","#d09392","#ff0000","#ffc000","#1f497d","#948a54","#000000"]}},
"shape":{"field":"s","type":"nominal","scale":{"domain":["Betterave Pomme De Terre","Céréale a paille colza légumineuse grain","Céréale a paille colza légumineuse grain (diversifié)","Céréale a paille colza maïs","Céréale a paille colza maïs (diversifié)","Céréale a paille colza maïs légumineuse grain","Céréale a paille colza Tournesol","Céréale a paille Légumineuse grain maïs","Céréales à paille","Céréales à paille légumineuse grain","Céréales à paille maïs","Céréales à paille maïs (diversifié)","Céréales a paille maïs tournesol","Céréales à paille tournesol","Céréales à paille tournesol (diversifié)","Céréales colza (Diversifiée)","Colza Céréale à Paille","Legume Plein Champ","Légumineuse grain diversifié","Lin","Maïs","Maïs (diversifié)","Maïs semence","Prairie temporaire","rotation complexe"],"range":["triangle-up","square","triangle-up","circle","circle","circle","circle","circle","circle","square","triangle-up","triangle-up","triangle-up","circle","circle","circle","circle","M-1,-0.16H1V0.16H-1Z","diamond","square","circle","circle","circle","triangle-up","diamond"]}},
"size":{"field":"s","type":"nominal","scale":{"domain":["Betterave Pomme De Terre","Céréale a paille colza légumineuse grain","Céréale a paille colza légumineuse grain (diversifié)","Céréale a paille colza maïs","Céréale a paille colza maïs (diversifié)","Céréale a paille colza maïs légumineuse grain","Céréale a paille colza Tournesol","Céréale a paille Légumineuse grain maïs","Céréales à paille","Céréales à paille légumineuse grain","Céréales à paille maïs","Céréales à paille maïs (diversifié)","Céréales a paille maïs tournesol","Céréales à paille tournesol","Céréales à paille tournesol (diversifié)","Céréales colza (Diversifiée)","Colza Céréale à Paille","Legume Plein Champ","Légumineuse grain diversifié","Lin","Maïs","Maïs (diversifié)","Maïs semence","Prairie temporaire","rotation complexe"],"range":[175,185,175,135,135,135,135,135,135,185,175,175,175,135,135,135,135,190,135,185,135,135,135,175,135]}}
}},
{"data":{"values":[{"a":-0.031,"b":0.634,"c":0.0177,"d":1.002}]},"mark":{"type":"rect","fill":"#c3d69b","fillOpacity":0.2},"encoding":{"x":{"field":"a","type":"quantitative"},"x2":{"field":"b"},"y":{"field":"c","type":"quantitative"},"y2":{"field":"d"}}},
{"data":{"values":[{"a":-0.031,"b":0.634,"c":0.5,"d":0.7}]},"mark":{"type":"rect","fill":"#c3d69b","fillOpacity":0.08},"encoding":{"x":{"field":"a","type":"quantitative"},"x2":{"field":"b"},"y":{"field":"c","type":"quantitative"},"y2":{"field":"d"}}},
{"data":{"values":[{"a":-0.031,"b":0.437,"c":0.7,"d":1.002}]},"mark":{"type":"rect","fill":"#9bbb59","fillOpacity":0.2},"encoding":{"x":{"field":"a","type":"quantitative"},"x2":{"field":"b"},"y":{"field":"c","type":"quantitative"},"y2":{"field":"d"}}},
{"data":{"values":[{"a":0.435,"c":0,"d":0.69}]},"mark":{"type":"rule","color":"#c00000","strokeWidth":5,"strokeDash":[5,7]},"encoding":{"x":{"field":"a","type":"quantitative"},"y":{"field":"c","type":"quantitative"},"y2":{"field":"d"}}},
{"data":{"values":[{"a":0.638,"c":0,"d":1}]},"mark":{"type":"rule","color":"#c0504d","strokeWidth":4,"strokeDash":[5,7]},"encoding":{"x":{"field":"a","type":"quantitative"},"y":{"field":"c","type":"quantitative"},"y2":{"field":"d"}}},
{"data":{"values":[{"a":-0.031,"b":0.634,"c":0.0177,"d":1.002}]},"mark":{"type":"rect","fillOpacity":0,"stroke":"#7f9a48","strokeWidth":5},"encoding":{"x":{"field":"a","type":"quantitative"},"x2":{"field":"b"},"y":{"field":"c","type":"quantitative"},"y2":{"field":"d"}}},
{"data":{"values":[{"a":-0.031,"b":0.437,"c":0.7,"d":1.002}]},"mark":{"type":"rect","fillOpacity":0,"stroke":"#7f9a48","strokeWidth":5},"encoding":{"x":{"field":"a","type":"quantitative"},"x2":{"field":"b"},"y":{"field":"c","type":"quantitative"},"y2":{"field":"d"}}},
{"data":{"values":[{"a":-0.031,"b":0.634,"c":0.5}]},"mark":{"type":"rule","color":"#7f9a48","strokeWidth":5},"encoding":{"x":{"field":"a","type":"quantitative"},"x2":{"field":"b"},"y":{"field":"c","type":"quantitative"}}},
{"data":{"values":[{"a":0.945,"c":-0.003,"d":1}]},"mark":{"type":"rule","color":"#c00000","strokeWidth":7},"encoding":{"x":{"field":"a","type":"quantitative"},"y":{"field":"c","type":"quantitative"},"y2":{"field":"d"}}},
{"data":{"values":[{"a":-0.26,"b":0.64,"c":-0.078,"d":-0.2}]},"mark":{"type":"rect","fill":"#d99694","stroke":"#953735","strokeWidth":5},"encoding":{"x":{"field":"a","type":"quantitative"},"x2":{"field":"b"},"y":{"field":"c","type":"quantitative"},"y2":{"field":"d"}}},
{"data":{"values":[{"a":0.018,"c":0.883,"t":"SCEP I"},{"a":0.018,"c":0.643,"t":"SCEP II"}]},"mark":{"type":"text","align":"left","baseline":"middle","font":"Lato","fontWeight":"bold","fontSize":25,"color":"#111111"},"encoding":{"x":{"field":"a","type":"quantitative"},"y":{"field":"c","type":"quantitative"},"text":{"field":"t"}}},
{"data":{"values":[{"a":0.277,"c":0.209,"t":"SCE « repêchables »"}]},"mark":{"type":"text","align":"center","baseline":"middle","font":"Lato","fontWeight":"bold","fontSize":27,"angle":325,"color":"#111111"},"encoding":{"x":{"field":"a","type":"quantitative"},"y":{"field":"c","type":"quantitative"},"text":{"field":"t"}}}
]}
